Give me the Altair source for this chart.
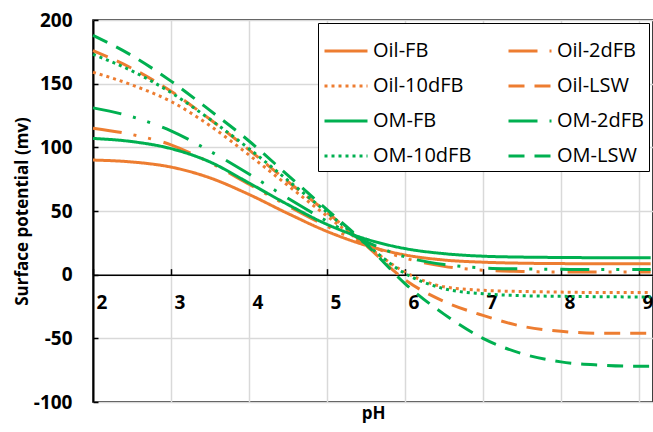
import altair as alt
import pandas as pd

ph = [2, 2.5, 3, 3.5, 4, 4.5, 5, 5.5, 6, 6.5, 7, 7.5, 8, 8.5, 9, 9.15]

oil_fb = [90, 88.5, 84.5, 76, 63, 48, 34, 23, 15.5, 11.5, 9.8, 9, 8.7, 8.5, 8.5, 8.5]
om_fb = [107, 104.5, 99, 88.5, 72, 55, 39.5, 28, 20.5, 16.5, 14.5, 13.8, 13.5, 13.3, 13.2, 13.2]
oil_2dfb = [115, 110, 102, 88, 71, 54, 38, 24, 13, 6.5, 3.5, 2.5, 2, 2, 2, 2]
om_2dfb = [131, 124, 113, 97, 79, 60, 42, 26, 14, 8, 5.3, 4.5, 4.2, 4, 4, 4]
oil_10dfb = [159, 149, 136, 117, 94, 70, 46, 23, 2, -9.5, -12.3, -13.2, -13.7, -14, -14, -14]
om_10dfb = [173, 160, 143, 122, 99, 74, 49, 24, 1, -11, -15, -16.5, -17, -17.3, -17.5, -17.5]
oil_lsw = [176, 162, 144, 122, 98, 73, 49, 23, -4, -21, -32, -40.5, -44.5, -46, -46, -46]
om_lsw = [188, 172, 152, 129, 105, 78, 51, 24, -7, -31, -50, -62, -68.5, -71, -72, -72]

series_names = ["Oil-FB", "Oil-2dFB", "Oil-10dFB", "Oil-LSW",
                "OM-FB", "OM-2dFB", "OM-10dFB", "OM-LSW"]
series_values = [oil_fb, oil_2dfb, oil_10dfb, oil_lsw,
                 om_fb, om_2dfb, om_10dfb, om_lsw]
ORANGE = "#ED7D31"
GREEN = "#00B050"
series_colors = [ORANGE] * 4 + [GREEN] * 4
dash_styles = [[1, 0], [29, 12, 3, 12, 3, 13], [3, 4], [16, 10]]
series_dashes = dash_styles * 2

x_ticks = [2, 3, 4, 5, 6, 7, 8, 9]
y_ticks = [-100, -50, 0, 50, 100, 150, 200]

rows = []
for name, vals in zip(series_names, series_values):
    for p, v in zip(ph, vals):
        rows.append({"pH": p, "v": v, "series": name})
df = pd.DataFrame(rows)

W, H = 560, 382
zero_pos = H * 200 / 300
FONT = "Open Sans"

x_scale = alt.Scale(domain=[2, 9.18], nice=False, zero=False)
y_scale = alt.Scale(domain=[-100, 200], nice=False)

legend = alt.Legend(
    title=None, orient="none", legendX=225, legendY=3, columns=2,
    direction="horizontal",
    strokeColor="black", fillColor="white", padding=5,
    labelFont=FONT, labelFontSize=20, labelColor="black", labelOffset=4,
    symbolType="stroke", symbolSize=1849, symbolStrokeWidth=3,
    rowPadding=2, columnPadding=30,
)

lines = alt.Chart(df).mark_line(strokeWidth=3, interpolate="monotone").encode(
    x=alt.X("pH:Q", scale=x_scale, axis=alt.Axis(
        orient="bottom", offset=-(H - zero_pos), values=x_ticks,
        domain=False, ticks=False, grid=True, gridColor="#D9D9D9", gridWidth=1.5,
        labelAlign="left", labelOffset=3, labelPadding=19, labelBaseline="top",
        labelFlush=False, labelFont=FONT, labelFontSize=19, labelFontWeight="bold",
        labelColor="black", title="pH", titleX=W / 2, titleY=139,
        titleBaseline="middle", titleAlign="center", titleFont=FONT,
        titleFontSize=17, titleFontWeight="bold", titleColor="black")),
    y=alt.Y("v:Q", scale=y_scale, axis=alt.Axis(
        orient="left", values=y_ticks, domain=False, ticks=False, grid=True,
        gridColor="#D9D9D9", gridWidth=1.5, labelPadding=21,
        labelExpr="'' + datum.value",
        labelFont=FONT, labelFontSize=19, labelFontWeight="bold", labelColor="black",
        title="Surface potential (mv)", titleX=-71, titleY=H / 2, titleAngle=270,
        titleBaseline="middle", titleAlign="center", titleFont=FONT,
        titleFontSize=17, titleFontWeight="bold", titleColor="black")),
    color=alt.Color("series:N", scale=alt.Scale(domain=series_names, range=series_colors),
                    legend=legend),
    strokeDash=alt.StrokeDash("series:N", scale=alt.Scale(domain=series_names, range=series_dashes),
                              legend=legend),
)

frame = alt.Chart(df).mark_point(opacity=0).encode(
    x=alt.X("pH:Q", scale=x_scale, axis=alt.Axis(
        orient="top", offset=-zero_pos, values=x_ticks, domain=True,
        domainColor="black", domainWidth=1.5, ticks=True, tickSize=6,
        tickColor="black", tickWidth=1.5, labels=False, grid=False, title=None)),
    y=alt.Y("v:Q", scale=y_scale, axis=alt.Axis(
        orient="right", offset=-W, values=y_ticks, domain=True,
        domainColor="black", domainWidth=2, ticks=True, tickSize=5,
        tickColor="black", tickWidth=1.5, labels=False, grid=False, title=None)),
)

chart = alt.layer(lines, frame).resolve_axis(
    x="independent", y="independent"
).properties(
    width=W, height=H,
    autosize=alt.AutoSizeParams(type="none"),
    padding={"left": 93, "top": 20, "right": 0, "bottom": 30},
).configure_view(stroke="black", strokeWidth=1.5)

chart.save("out.html", embed_options={"renderer": "svg", "actions": False})
